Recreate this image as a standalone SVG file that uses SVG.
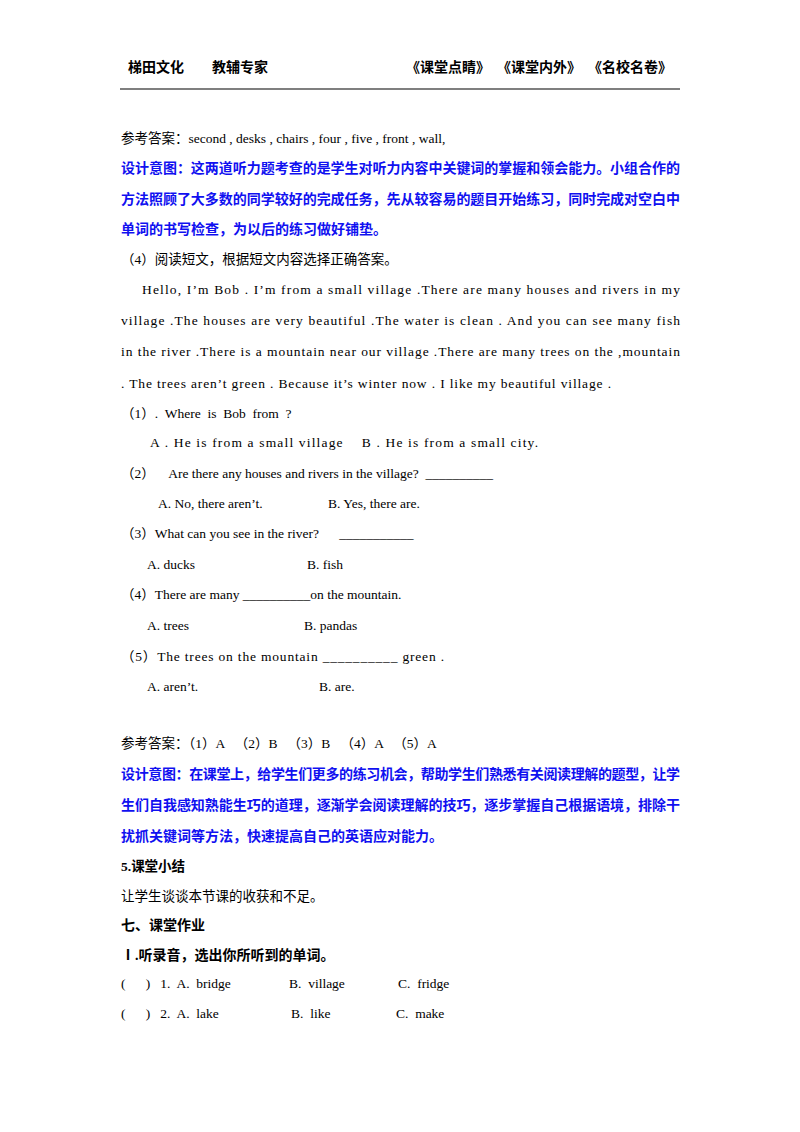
<svg xmlns="http://www.w3.org/2000/svg" width="800" height="1132" viewBox="0 0 800 1132">
<style>
text{font-family:"Liberation Serif","Noto Sans CJK SC",serif;font-size:13.5px;fill:#000;white-space:pre}
.b{font-weight:bold}
.blue{fill:#1010f0;font-weight:bold;font-size:14px}
.h{font-weight:bold;font-size:14px}
</style>
<rect width="800" height="1132" fill="#fff"/>
<text x="128" y="72" class="h">梯田文化</text>
<text x="212" y="72" class="h">教辅专家</text>
<text x="406" y="72" class="h">《课堂点睛》</text>
<text x="497" y="72" class="h">《课堂内外》</text>
<text x="588" y="72" class="h">《名校名卷》</text>
<line x1="120" y1="89" x2="680" y2="89" stroke="#000" stroke-width="1.2"/>
<text x="121" y="143">参考答案：second , desks , chairs , four , five , front , wall,</text>
<text x="121" y="173" class="blue" textLength="559" lengthAdjust="spacing">设计意图：这两道听力题考查的是学生对听力内容中关键词的掌握和领会能力。小组合作的</text>
<text x="121" y="204" class="blue" textLength="559" lengthAdjust="spacing">方法照顾了大多数的同学较好的完成任务，先从较容易的题目开始练习，同时完成对空白中</text>
<text x="121" y="234" class="blue">单词的书写检查，为以后的练习做好铺垫。</text>
<text x="121" y="264">（4）阅读短文，根据短文内容选择正确答案。</text>
<text x="142" y="294" textLength="538" lengthAdjust="spacing">Hello, I’m Bob . I’m from a small village .There are many houses and rivers in my</text>
<text x="121" y="325" textLength="559" lengthAdjust="spacing">village .The houses are very beautiful .The water is clean . And you can see many fish</text>
<text x="121" y="356" textLength="559" lengthAdjust="spacing">in the river .There is a mountain near our village .There are many trees on the ,mountain</text>
<text x="121" y="388" textLength="490" lengthAdjust="spacing">. The trees aren’t green . Because it’s winter now . I like my beautiful village .</text>
<text x="121" y="418">（1）.  Where  is  Bob  from  ?</text>
<text x="150" y="447" textLength="388" lengthAdjust="spacing">A . He is from a small village    B . He is from a small city.</text>
<text x="121" y="478">（2）    Are there any houses and rivers in the village?  __________</text>
<text x="158" y="508">A. No, there aren’t.</text>
<text x="328" y="508">B. Yes, there are.</text>
<text x="121" y="538">（3）What can you see in the river?      ___________</text>
<text x="147" y="569">A. ducks</text>
<text x="307" y="569">B. fish</text>
<text x="121" y="599">（4）There are many __________on the mountain.</text>
<text x="147" y="630">A. trees</text>
<text x="304" y="630">B. pandas</text>
<text x="121" y="661" textLength="323" lengthAdjust="spacing">（5）The trees on the mountain __________ green .</text>
<text x="147" y="691">A. aren’t.</text>
<text x="319" y="691">B. are.</text>
<text x="121" y="748">参考答案：（1）A   （2）B   （3）B   （4）A   （5）A</text>
<text x="121" y="779" class="blue" textLength="559" lengthAdjust="spacing">设计意图：在课堂上，给学生们更多的练习机会，帮助学生们熟悉有关阅读理解的题型，让学</text>
<text x="121" y="810" class="blue" textLength="559" lengthAdjust="spacing">生们自我感知熟能生巧的道理，逐渐学会阅读理解的技巧，逐步掌握自己根据语境，排除干</text>
<text x="121" y="841" class="blue">扰抓关键词等方法，快速提高自己的英语应对能力。</text>
<text x="121" y="871" class="b">5.课堂小结</text>
<text x="121" y="901">让学生谈谈本节课的收获和不足。</text>
<text x="121" y="930" class="h">七、课堂作业</text>
<text x="121" y="960" class="h">Ⅰ.听录音，选出你所听到的单词。</text>
<text x="121" y="988">(      )   1.  A.  bridge</text>
<text x="289" y="988">B.  village</text>
<text x="398" y="988">C.  fridge</text>
<text x="121" y="1018">(      )   2.  A.  lake</text>
<text x="291" y="1018">B.  like</text>
<text x="396" y="1018">C.  make</text>
</svg>
